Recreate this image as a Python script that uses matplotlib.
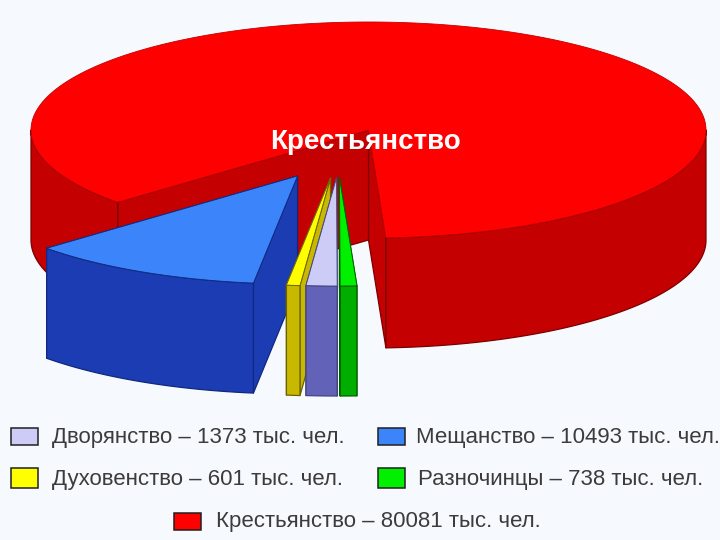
import numpy as np
import matplotlib
matplotlib.use("Agg")
import matplotlib.pyplot as plt
from matplotlib.patches import Polygon, Rectangle

# Data
categories = ["Мещанство", "Духовенство", "Дворянство", "Разночинцы", "Крестьянство"]
values = [10493, 601, 1373, 738, 80081]
legend_labels = ["Дворянство – 1373 тыс. чел.", "Мещанство – 10493 тыс. чел.",
                 "Духовенство – 601 тыс. чел.", "Разночинцы – 738 тыс. чел.",
                 "Крестьянство – 80081 тыс. чел."]
title_label = "Крестьянство"

# Style
top_col = ["#3b84fa", "#ffff00", "#ccccf6", "#00f000", "#ff0000"]
side_col = ["#1c3cb4", "#c8b800", "#6262b8", "#00ae00", "#c40000"]
edge_col = ["#10297e", "#6b6200", "#44447f", "#005f00", "#7c0000"]
explode = [(-71, 46), (-38, 48), (-32, 48), (-29, 48), (0, 0)]
CX, CY, A, B, DEPTH = 368.5, 130.0, 337.5, 108.0, 110.0
START = 222.0
BG = "#f6f9fd"

fig = plt.figure(figsize=(7.2, 5.4), dpi=100, facecolor=BG)
ax = fig.add_axes([0, 0, 1, 1])
ax.set_xlim(0, 720)
ax.set_ylim(540, 0)
ax.axis("off")

frac = np.array(values) / np.sum(values)
edges = START + np.concatenate([[0], np.cumsum(frac) * 360])
down = np.array([0, DEPTH])


def arc(t0, t1, off):
    t = np.radians(np.linspace(t0, t1, max(int(abs(t1 - t0)) * 2, 2) + 1))
    return np.column_stack([CX + A * np.cos(t) + off[0], CY - B * np.sin(t) + off[1]])


def poly(pts, fc, ec, z, lw=0.9):
    ax.add_patch(Polygon(pts, closed=True, facecolor=fc, edgecolor=ec,
                         linewidth=lw, joinstyle="round", zorder=z))


def wall(t0, t1, i, z):
    w = arc(t0, t1, explode[i])
    poly(np.vstack([w, (w + down)[::-1]]), side_col[i], edge_col[i], z)


def draw_slice(i, z):
    t0, t1, off = edges[i], edges[i + 1], explode[i]
    apex = np.array([CX + off[0], CY + off[1]])
    rim = arc(t0, t1, off)
    p0, p1 = rim[0], rim[-1]
    # cut faces
    poly([p0, apex, apex + down, p0 + down], side_col[i], edge_col[i], z)
    poly([p1, apex, apex + down, p1 + down], side_col[i], edge_col[i], z)
    # outer wall: only the front of the rim is visible
    if i == 4:
        wall(180, START, i, z)
        wall(t0, 360, i, z + 0.1)
    else:
        wall(t0, t1, i, z + 0.1)
    poly(np.vstack([[apex], rim]), top_col[i], edge_col[i] if i != 4 else side_col[i], z + 0.2, lw=0.6)


# red slice first (it wraps round the back), then from the left to the right
draw_slice(4, 1)
for k, i in enumerate([0, 1, 2, 3]):
    draw_slice(i, 2 + k)

ax.text(365, 142, title_label, color="white", fontsize=20, fontweight="bold",
        family="Liberation Sans", ha="center", va="center", zorder=10)

# Legend
swatches = [(11, 428, 17), (378, 428, 17), (11, 468, 20), (378, 468, 20), (174, 513, 17)]
text_x = [52, 416, 52, 418, 216]
text_y = [437, 437, 479, 479, 522]
swatch_cols = [top_col[2], top_col[0], top_col[1], top_col[3], top_col[4]]
for (sx, sy, sh), tx, ty, lab, c in zip(swatches, text_x, text_y, legend_labels, swatch_cols):
    ax.add_patch(Rectangle((sx, sy), 27, sh, facecolor=c, edgecolor="#202020", linewidth=1.1, zorder=5))
    ax.text(tx, ty, lab, color="#3c3c3c", fontsize=16, family="Liberation Sans",
            ha="left", va="center", zorder=5)

fig.savefig("out.png", dpi=100, facecolor=BG)
